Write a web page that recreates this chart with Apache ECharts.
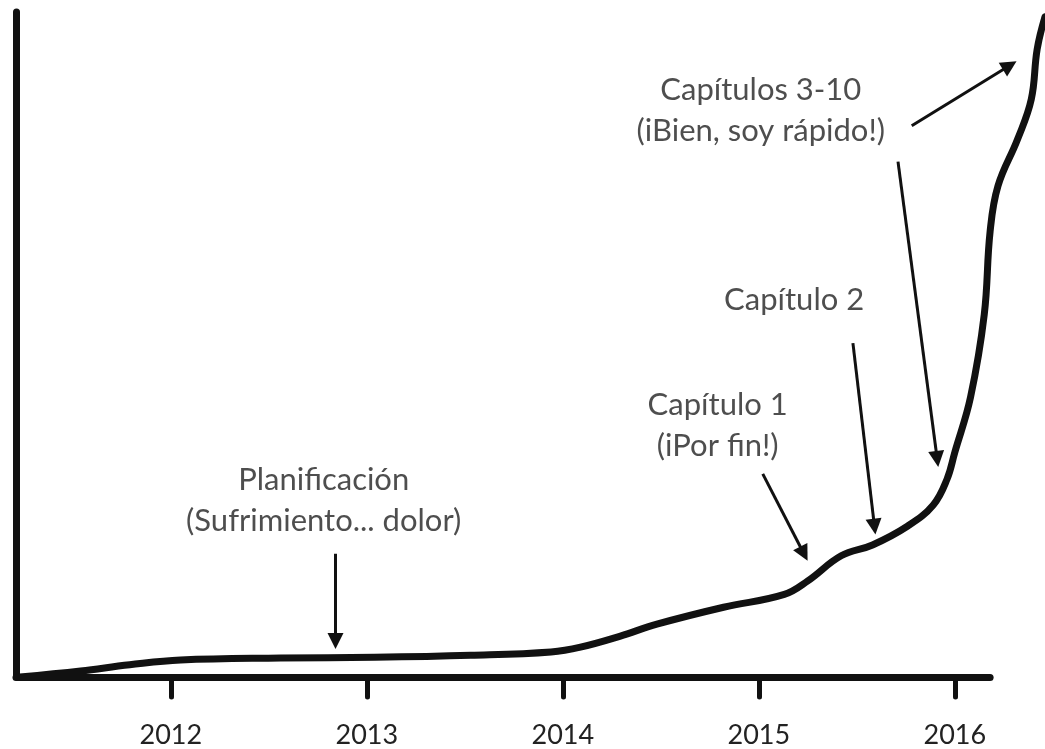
<!DOCTYPE html>
<html>
<head>
<meta charset="utf-8">
<script src="https://cdn.jsdelivr.net/npm/echarts@6/dist/echarts.min.js"></script>
<style>
  html, body { margin: 0; padding: 0; background: #fff; }
  #chart { width: 1045px; height: 749px; }
</style>
</head>
<body>
<div id="chart"></div>
<script>
// years on the x axis
const years = [2012, 2013, 2014, 2015, 2016];
// where the drawn x axis stops
const axisStart = 2011.21;
const axisEnd = 2016.18;

// progress curve (x = year, y = progress)
const curveX = [2011.23, 2011.54, 2011.79, 2012.05, 2012.56, 2013.04, 2013.53, 2013.94, 2014.09, 2014.29,
  2014.48, 2014.82, 2015.13, 2015.25, 2015.42, 2015.58, 2015.76, 2015.89, 2015.96, 2016.0,
  2016.08, 2016.15, 2016.18, 2016.22, 2016.32, 2016.39, 2016.42, 2016.46];
const curveY = [0, 0.9, 1.8, 2.5, 2.8, 2.9, 3.2, 3.7, 4.4, 6.0,
  7.8, 10.3, 12.2, 14.2, 17.9, 19.5, 22.3, 25.4, 29.2, 33.2,
  41.3, 53.5, 65.8, 72.5, 79.4, 85.3, 92.7, 97.5];

// notes
const noteText = [
  "Planificación\n(Sufrimiento... dolor)",
  "Capítulo 1\n(iPor fin!)",
  "Capítulo 2",
  "Capítulos 3-10\n(iBien, soy rápido!)"
];
const noteX = [2012.78, 2014.79, 2015.18, 2015.01];
const noteY = [26.0, 37.2, 55.7, 83.6];

// arrows: start and end points
const arrowFrom = [[2012.84, 18.2], [2015.02, 30.0], [2015.48, 49.3], [2015.71, 76.1], [2015.78, 81.4]];
const arrowTo = [[2012.84, 5.3], [2015.23, 18.2], [2015.59, 22.2], [2015.91, 32.2], [2016.28, 90.3]];

const chart = echarts.init(document.getElementById("chart"));

const arrows = arrowFrom.map((a, i) => [
  { coord: a, symbol: "none" },
  { coord: arrowTo[i], symbol: "triangle", symbolSize: 16 }
]);
// the x axis line, shorter than the plot
const baseLine = [
  { coord: [axisStart, 0], symbol: "none", lineStyle: { width: 7, cap: "round" } },
  { coord: [axisEnd, 0], symbol: "none" }
];

const option = {
  backgroundColor: "#fff",
  animation: false,
  grid: {
    left: 16,
    right: 0,
    top: 12,
    bottom: 68
  },
  xAxis: {
    type: "value",
    min: axisStart,
    max: 2016.46,
    axisLine: { show: false },
    axisTick: {
      show: true,
      customValues: years,
      length: 20,
      lineStyle: { color: "#111", width: 5, cap: "round" }
    },
    axisLabel: {
      customValues: years,
      margin: 45,
      fontFamily: "Lato",
      fontSize: 27,
      color: "#222",
      formatter: v => String(v)
    },
    splitLine: { show: false }
  },
  yAxis: {
    type: "value",
    min: 0,
    max: 98.2,
    axisLine: {
      show: true,
      lineStyle: { color: "#111", width: 7, cap: "round" }
    },
    axisTick: { show: false },
    axisLabel: { show: false },
    splitLine: { show: false }
  },
  series: [
    {
      name: "progreso",
      type: "line",
      data: curveX.map((x, i) => [x, curveY[i]]),
      smooth: 0.4,
      clip: false,
      showSymbol: false,
      silent: true,
      lineStyle: { color: "#111", width: 7, cap: "round", join: "round" },
      markLine: {
        silent: true,
        label: { show: false },
        lineStyle: { color: "#111", width: 3, type: "solid" },
        emphasis: { disabled: true },
        data: [baseLine].concat(arrows)
      }
    },
    {
      name: "notas",
      type: "scatter",
      symbolSize: 0,
      silent: true,
      data: noteX.map((x, i) => [x, noteY[i], noteText[i]]),
      label: {
        show: true,
        position: "inside",
        formatter: p => p.data[2],
        fontFamily: "Lato",
        fontSize: 31,
        lineHeight: 41,
        align: "center",
        color: "#222"
      }
    }
  ]
};

chart.setOption(option);
</script>
</body>
</html>
